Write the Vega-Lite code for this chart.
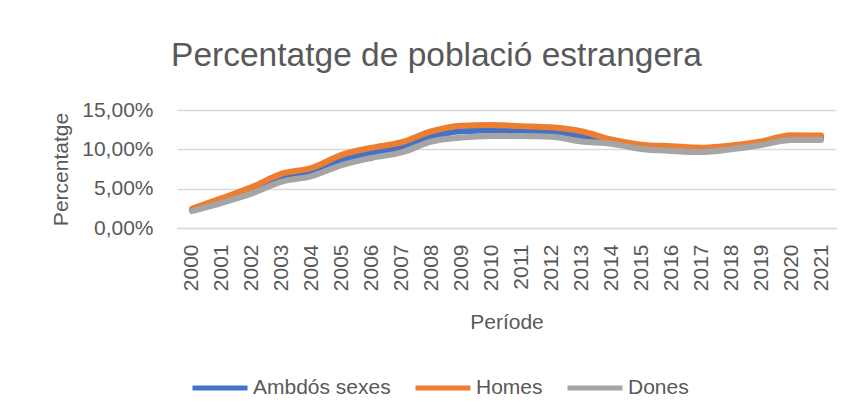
{
  "$schema": "https://vega.github.io/schema/vega-lite/v6.json",
  "autosize": "none",
  "width": 659,
  "height": 118,
  "padding": {"left": 177, "top": 110, "right": 15, "bottom": 191},
  "background": "white",
  "config": {
    "view": {"stroke": null},
    "font": "Liberation Sans",
    "axis": {"labelColor": "#595959", "titleColor": "#595959", "labelFont": "Liberation Sans", "titleFont": "Liberation Sans", "titleFontWeight": "normal"},
    "legend": {"labelColor": "#595959", "labelFont": "Liberation Sans"}
  },
  "title": {
    "text": "Percentatge de població estrangera",
    "font": "Liberation Sans",
    "fontSize": 33.5,
    "fontWeight": "normal",
    "color": "#595959",
    "anchor": "middle",
    "dx": -70,
    "offset": 26
  },
  "data": {
    "values": [
      {"any": "2000", "serie": "Ambdós sexes", "pct": 2.3},
      {"any": "2001", "serie": "Ambdós sexes", "pct": 3.5},
      {"any": "2002", "serie": "Ambdós sexes", "pct": 4.8},
      {"any": "2003", "serie": "Ambdós sexes", "pct": 6.4},
      {"any": "2004", "serie": "Ambdós sexes", "pct": 7.1},
      {"any": "2005", "serie": "Ambdós sexes", "pct": 8.7},
      {"any": "2006", "serie": "Ambdós sexes", "pct": 9.6},
      {"any": "2007", "serie": "Ambdós sexes", "pct": 10.2},
      {"any": "2008", "serie": "Ambdós sexes", "pct": 11.6},
      {"any": "2009", "serie": "Ambdós sexes", "pct": 12.3},
      {"any": "2010", "serie": "Ambdós sexes", "pct": 12.4},
      {"any": "2011", "serie": "Ambdós sexes", "pct": 12.35},
      {"any": "2012", "serie": "Ambdós sexes", "pct": 12.2},
      {"any": "2013", "serie": "Ambdós sexes", "pct": 11.7},
      {"any": "2014", "serie": "Ambdós sexes", "pct": 10.95},
      {"any": "2015", "serie": "Ambdós sexes", "pct": 10.3},
      {"any": "2016", "serie": "Ambdós sexes", "pct": 10.1},
      {"any": "2017", "serie": "Ambdós sexes", "pct": 9.9},
      {"any": "2018", "serie": "Ambdós sexes", "pct": 10.25},
      {"any": "2019", "serie": "Ambdós sexes", "pct": 10.75},
      {"any": "2020", "serie": "Ambdós sexes", "pct": 11.5},
      {"any": "2021", "serie": "Ambdós sexes", "pct": 11.45},
      {"any": "2000", "serie": "Homes", "pct": 2.45},
      {"any": "2001", "serie": "Homes", "pct": 3.8},
      {"any": "2002", "serie": "Homes", "pct": 5.2},
      {"any": "2003", "serie": "Homes", "pct": 6.9},
      {"any": "2004", "serie": "Homes", "pct": 7.65},
      {"any": "2005", "serie": "Homes", "pct": 9.3},
      {"any": "2006", "serie": "Homes", "pct": 10.2},
      {"any": "2007", "serie": "Homes", "pct": 10.9},
      {"any": "2008", "serie": "Homes", "pct": 12.3},
      {"any": "2009", "serie": "Homes", "pct": 13.0},
      {"any": "2010", "serie": "Homes", "pct": 13.1},
      {"any": "2011", "serie": "Homes", "pct": 12.95},
      {"any": "2012", "serie": "Homes", "pct": 12.8},
      {"any": "2013", "serie": "Homes", "pct": 12.3},
      {"any": "2014", "serie": "Homes", "pct": 11.25},
      {"any": "2015", "serie": "Homes", "pct": 10.6},
      {"any": "2016", "serie": "Homes", "pct": 10.4},
      {"any": "2017", "serie": "Homes", "pct": 10.2},
      {"any": "2018", "serie": "Homes", "pct": 10.5},
      {"any": "2019", "serie": "Homes", "pct": 11.0},
      {"any": "2020", "serie": "Homes", "pct": 11.8},
      {"any": "2021", "serie": "Homes", "pct": 11.75},
      {"any": "2000", "serie": "Dones", "pct": 2.15},
      {"any": "2001", "serie": "Dones", "pct": 3.2},
      {"any": "2002", "serie": "Dones", "pct": 4.4},
      {"any": "2003", "serie": "Dones", "pct": 5.9},
      {"any": "2004", "serie": "Dones", "pct": 6.6},
      {"any": "2005", "serie": "Dones", "pct": 8.0},
      {"any": "2006", "serie": "Dones", "pct": 8.9},
      {"any": "2007", "serie": "Dones", "pct": 9.6},
      {"any": "2008", "serie": "Dones", "pct": 11.0},
      {"any": "2009", "serie": "Dones", "pct": 11.5},
      {"any": "2010", "serie": "Dones", "pct": 11.7},
      {"any": "2011", "serie": "Dones", "pct": 11.7},
      {"any": "2012", "serie": "Dones", "pct": 11.6},
      {"any": "2013", "serie": "Dones", "pct": 11.0},
      {"any": "2014", "serie": "Dones", "pct": 10.7},
      {"any": "2015", "serie": "Dones", "pct": 10.05},
      {"any": "2016", "serie": "Dones", "pct": 9.8},
      {"any": "2017", "serie": "Dones", "pct": 9.65},
      {"any": "2018", "serie": "Dones", "pct": 10.0},
      {"any": "2019", "serie": "Dones", "pct": 10.55},
      {"any": "2020", "serie": "Dones", "pct": 11.2},
      {"any": "2021", "serie": "Dones", "pct": 11.2}
    ]
  },
  "mark": {"type": "line", "strokeWidth": 6, "strokeCap": "round", "strokeJoin": "round", "interpolate": "monotone"},
  "encoding": {
    "x": {
      "field": "any",
      "type": "ordinal",
      "scale": {"paddingInner": 1, "paddingOuter": 0.5},
      "axis": {
        "title": "Període",
        "titleFontSize": 21,
        "titlePadding": 21,
        "labelAngle": 270,
        "labelFontSize": 21,
        "labelPadding": 16,
        "ticks": false,
        "domain": true,
        "domainColor": "#D9D9D9",
        "domainWidth": 1.5,
        "grid": false
      }
    },
    "y": {
      "field": "pct",
      "type": "quantitative",
      "scale": {"domain": [0, 15], "nice": false},
      "axis": {
        "title": "Percentatge",
        "titleFontSize": 21,
        "titlePadding": 10,
        "values": [0, 5, 10, 15],
        "labelExpr": "replace(format(datum.value, '.2f'), '.', ',') + '%'",
        "labelFontSize": 21,
        "labelPadding": 24,
        "ticks": false,
        "domain": false,
        "grid": true,
        "gridColor": "#D9D9D9",
        "gridWidth": 1.5
      }
    },
    "color": {
      "field": "serie",
      "type": "nominal",
      "scale": {"domain": ["Ambdós sexes", "Homes", "Dones"], "range": ["#4472C4", "#ED7D31", "#A5A5A5"]},
      "legend": {
        "title": null,
        "orient": "none",
        "legendX": 13,
        "legendY": 248,
        "direction": "horizontal",
        "columns": 3,
        "columnPadding": 14,
        "symbolType": "stroke",
        "symbolSize": 3025,
        "symbolStrokeWidth": 5,
        "labelFontSize": 21,
        "labelOffset": 3
      }
    }
  }
}
